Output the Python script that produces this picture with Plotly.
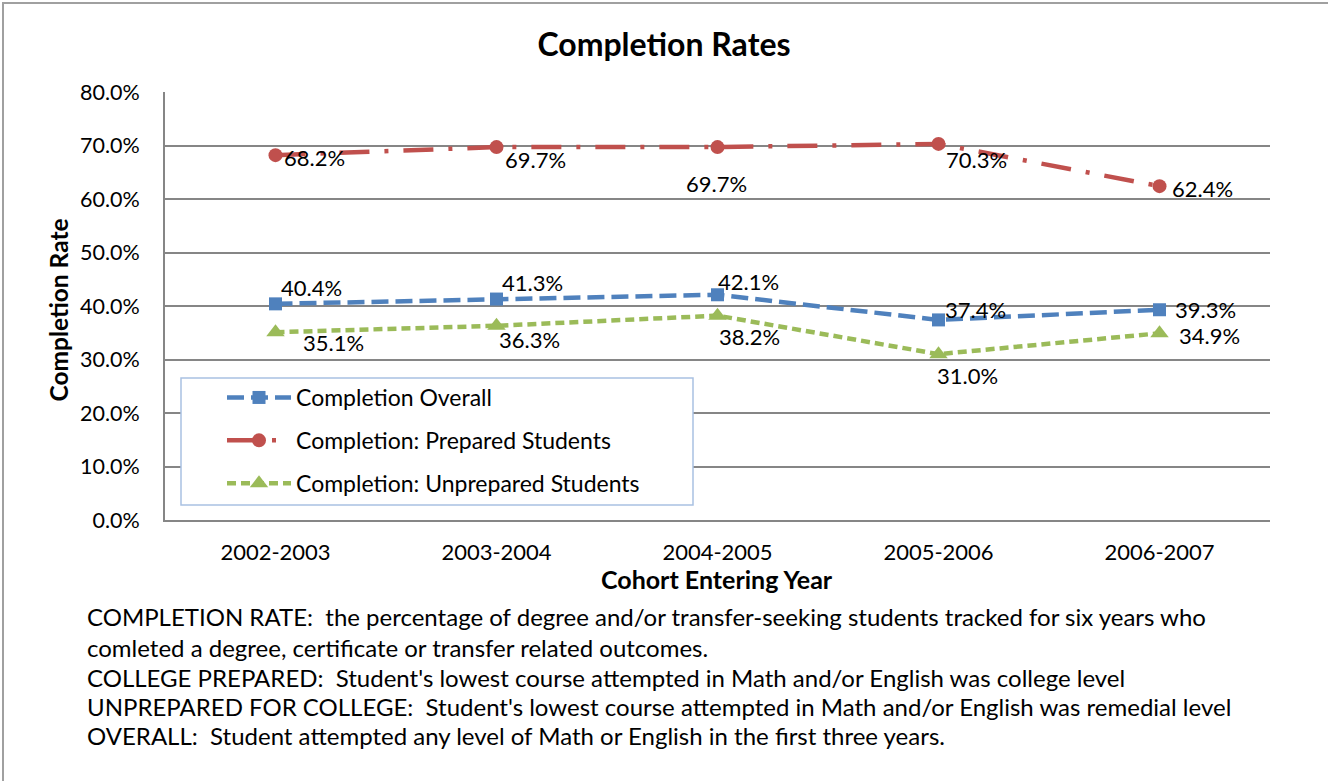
import plotly.graph_objects as go

# ---- data ----
cohorts = ["2002-2003", "2003-2004", "2004-2005", "2005-2006", "2006-2007"]
overall = [40.4, 41.3, 42.1, 37.4, 39.3]
prepared = [68.2, 69.7, 69.7, 70.3, 62.4]
unprepared = [35.1, 36.3, 38.2, 31.0, 34.9]
y_ticks = [0, 10, 20, 30, 40, 50, 60, 70, 80]

# ---- styles / label offsets (pixels) ----
FONT = "Lato"
BLUE, RED, GREEN = "#4F81BD", "#C0504D", "#9BBB59"
off_overall = [(36, 16), (36, 17), (31, 13), (37, 10), (46, 0)]
off_prepared = [(39, -2), (39, -12), (-1, -36), (38, -16), (43, -2)]
off_unprepared = [(58, -10), (33, -14), (32, -21), (29, -21), (50, -2)]

# plot area pixel geometry
L, R, T, B = 165, 1270, 92, 520
W, H = 1328, 781


def px(x):
    return (x - L) / (R - L)


def py(y):
    return (B - y) / (B - T)


fig = go.Figure()
fig.add_trace(go.Scatter(
    x=cohorts, y=overall, name="Completion Overall", mode="lines+markers",
    line=dict(color=BLUE, width=4.5, dash="17px,7px"),
    marker=dict(symbol="square", size=13, color=BLUE),
    legendgroup="a"))
fig.add_trace(go.Scatter(
    x=cohorts, y=prepared, name="Completion: Prepared Students", mode="lines+markers",
    line=dict(color=RED, width=4.5, dash="30px,15px,4px,15px"),
    marker=dict(symbol="circle", size=14, color=RED),
    legendgroup="b"))
fig.add_trace(go.Scatter(
    x=cohorts, y=unprepared, name="Completion: Unprepared Students", mode="lines+markers",
    line=dict(color=GREEN, width=4.5, dash="9px,5px"),
    marker=dict(symbol="triangle-up", size=16, color=GREEN),
    legendgroup="c"))

annotations = []
for vals, offs in ((overall, off_overall), (prepared, off_prepared), (unprepared, off_unprepared)):
    for c, v, (dx, dy) in zip(cohorts, vals, offs):
        annotations.append(dict(
            x=c, y=v, xref="x", yref="y", text=f"{v:.1f}%", showarrow=False,
            xanchor="center", yanchor="middle",
            xshift=dx, yshift=dy, font=dict(family=FONT, size=22, color="#000000")))

annotations.append(dict(
    x=px(57.5), y=py(310), xref="paper", yref="paper", text="<b>Completion Rate</b>",
    textangle=-90, showarrow=False, xanchor="center", yanchor="middle",
    font=dict(family=FONT, size=24.5, color="#000")))
annotations.append(dict(
    x=px(717), y=py(579), xref="paper", yref="paper", text="<b>Cohort Entering Year</b>",
    showarrow=False, xanchor="center", yanchor="middle",
    font=dict(family=FONT, size=25, color="#000")))

notes = [
    "COMPLETION RATE:  the percentage of degree and/or transfer-seeking students tracked for six years who",
    "comleted a degree, certificate or transfer related outcomes.",
    "COLLEGE PREPARED:  Student's lowest course attempted in Math and/or English was college level",
    "UNPREPARED FOR COLLEGE:  Student's lowest course attempted in Math and/or English was remedial level",
    "OVERALL:  Student attempted any level of Math or English in the first three years.",
]
note_y = [616, 647, 677, 706, 736]
for t, yy in zip(notes, note_y):
    annotations.append(dict(
        x=px(85), y=py(yy), xref="paper", yref="paper", text=t, showarrow=False,
        xanchor="left", yanchor="middle", font=dict(family=FONT, size=24, color="#000")))

shapes = [
    # outer chart border
    dict(type="rect", xref="paper", yref="paper", x0=px(3), x1=px(1400), y0=py(900), y1=py(3),
         line=dict(color="#A0A0A0", width=2), fillcolor="rgba(0,0,0,0)", layer="below"),
    # legend box
    dict(type="rect", xref="paper", yref="paper", x0=px(181), x1=px(693), y0=py(505), y1=py(378),
         line=dict(color="#A9C1E2", width=1.5), fillcolor="#FFFFFF", layer="above"),
]

fig.update_layout(
    width=W, height=H,
    margin=dict(l=L, r=W - R, t=T, b=H - B),
    paper_bgcolor="white", plot_bgcolor="white",
    font=dict(family=FONT, size=20, color="#000"),
    title=dict(text="<b>Completion Rates</b>", x=0.5, xanchor="center",
               y=1 - 45 / H, yanchor="middle", font=dict(family=FONT, size=32, color="#000")),
    xaxis=dict(type="category", range=[-0.5, 4.5], showgrid=False, showline=True,
               linecolor="#868686", linewidth=2, ticks="", ticklabelstandoff=12,
               tickfont=dict(family=FONT, size=22, color="#000"), zeroline=False),
    yaxis=dict(range=[0, 80], tickvals=y_ticks, ticktext=[f"{v:.1f}%" for v in y_ticks],
               showgrid=True, gridcolor="#868686", gridwidth=1.5, showline=True,
               linecolor="#868686", linewidth=2, ticks="", ticklabelstandoff=19,
               tickfont=dict(family=FONT, size=21.5, color="#000"), zeroline=False),
    showlegend=True,
    legend=dict(x=px(222), y=py(376), xanchor="left", yanchor="top",
                bgcolor="rgba(0,0,0,0)", borderwidth=0, tracegroupgap=10,
                itemwidth=64, font=dict(family=FONT, size=23, color="#000")),
    annotations=annotations,
    shapes=shapes,
)

fig.write_html("out.html", config={"displayModeBar": False},
               post_script="document.body.style.margin='0';")
